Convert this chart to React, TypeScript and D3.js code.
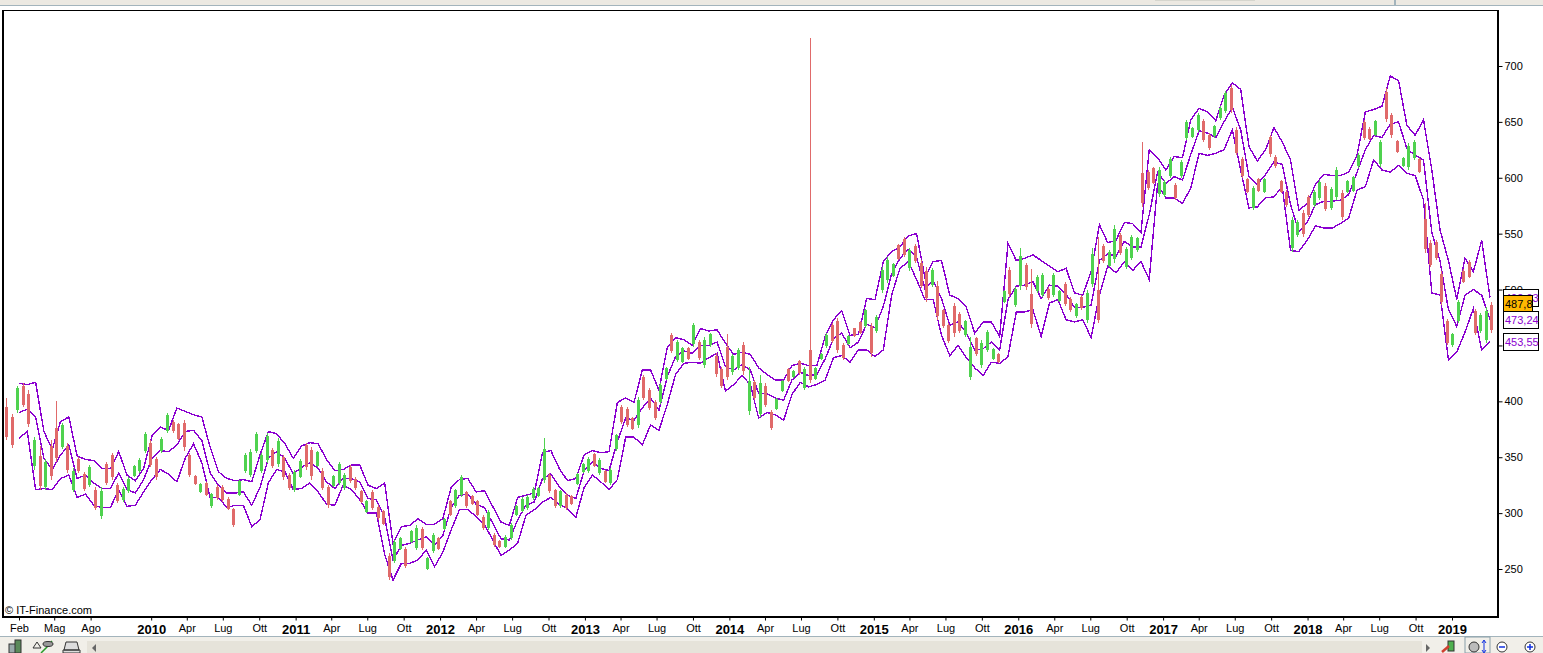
import { useEffect, useRef } from "react";
import * as d3 from "d3";

// price bars, one every 14 days starting from BAR_START
const BAR_START = new Date(2008, 11, 31);
const barLow = [
  365,358,390,395,377,339,321,321,330,346,357,336,319,336,320,323,303,295,325,330,309,310,318,332,336,354,341,330,354,372,372,365,356,332,325,318,315,305,312,310,303,288,315,336,332,354,
  336,345,340,341,330,321,319,331,339,330,341,321,305,323,325,321,327,321,309,300,303,294,289,240,255,267,251,273,267,267,249,264,267,285,297,305,314,305,307,297,285,285,270,269,269,276,297,301,303,
  312,314,327,318,305,305,303,307,325,336,336,341,334,327,325,356,380,377,374,376,401,392,383,398,419,443,435,434,437,449,437,430,449,422,412,419,424,428,424,388,401,386,395,374,392,408,417,421,424,
  410,416,419,437,448,452,443,437,450,458,460,466,440,461,497,506,511,526,529,517,524,501,489,502,473,466,452,458,461,458,419,441,430,444,437,434,
  488,493,484,500,500,466,497,493,491,493,489,485,480,475,482,470,502,470,524,520,524,531,518,526,534,574,589,594,583,583,600,580,
  600,634,636,641,632,625,636,652,658,658,620,600,586,571,587,586,619,609,586,574,534,547,547,565,574,580,570,571,580,562,586,587,609,634,634,637,610,650,636,622,610,607,616,604,533,520,526,486,450,449,470,506,510,459,461,452,461,
];
const barHigh = [
  403,389,414,416,410,368,360,348,365,400,381,363,340,350,337,343,323,323,346,354,327,323,332,343,349,373,365,350,368,390,383,381,383,354,334,327,328,318,325,325,314,305,330,354,357,373,
  354,372,358,367,352,336,339,348,363,359,356,340,325,334,346,336,343,332,321,312,321,307,303,264,276,279,270,285,289,288,261,282,279,296,312,322,334,320,316,312,298,303,282,276,280,291,307,314,316,
  323,323,367,336,322,321,318,316,336,345,350,354,349,339,340,371,397,395,386,404,424,412,401,416,431,461,455,449,449,470,455,458,461,443,431,460,442,448,453,431,419,424,416,392,403,419,430,428,437,
  431,725,431,443,461,470,475,452,459,466,472,483,470,477,520,529,524,541,547,537,541,526,520,519,508,483,470,488,480,473,458,458,455,464,448,443,
  500,520,502,537,524,518,513,515,502,515,500,507,493,488,495,500,537,547,541,535,558,551,538,549,547,632,607,610,610,598,619,595,
  616,652,645,658,653,640,647,664,678,683,645,619,600,593,600,600,638,620,598,589,565,562,571,585,589,598,595,592,610,589,598,602,622,652,645,652,634,680,658,634,619,631,634,618,577,544,544,517,474,461,491,518,526,483,479,484,489,
];
const barDir =
  "rrgrrgrgrrgrgrrgrgrrrggggg" + "rrggrrrrrgrgrrrrgggg" +
  "ggrgrrggrrgrrgggrrrgrrrrggrggrggrgrgg" + "rrrrgrrggggg" +
  "gggrrgrrgggrgrggrrrgrrrggrggrgrggrrrggrgrgrrggrgr" +
  "grgggrrrgrrgrggggrrgrrrgrrrrrggrgggr" +
  "grggrrggrggrrgrggrrggrgggrrrgg" + "gr" +
  "ggggrrgggrrrrgrgrrrr" + "ggrrggrggrgggrrggrrrgggrrrrrrggrrrggr";

// envelope bands, one point every 21 days starting from BAND_START
const BAND_START = new Date(2009, 1, 1);
const upperBand = [
  416,415,417,373,357,382,386,351,348,347,340,340,355,334,329,340,369,377,374,394,391,388,386,359,337,331,329,330,328,352,373,
  371,362,349,360,363,362,348,338,339,343,343,325,322,327,273,288,289,295,290,290,295,323,330,331,319,320,306,292,
  289,314,316,318,354,356,340,329,331,352,356,
  354,355,399,403,399,428,428,410,448,457,
  455,450,465,463,464,452,442,444,442,430,
  424,419,419,432,434,432,432,458,473,481,
  459,460,492,491,525,534,538,548,550,511,
  525,526,495,492,484,461,471,471,458,541,
  526,528,531,526,521,516,519,497,495,516,
  558,542,544,560,559,551,625,618,607,619,
  618,652,662,659,651,674,685,679,628,615,
  625,645,632,616,571,577,594,603,602,602,
  605,620,659,661,664,691,687,647,638,652,
  607,553,526,491,528,516,544,492.93,
];
const middleBand = [
  390,393,386,349,339,352,361,331,334,327,
  322,322,336,321,318,330,349,356,355,361,
  373,374,365,336,325,318,318,319,307,323,
  349,355,349,335,341,345,340,328,322,331,
  331,328,313,312,296,258,271,273,276,279,
  271,280,305,316,317,308,305,291,277,276,
  294,307,310,331,335,324,316,313,338,346,
  340,338,364,385,383,394,403,392,422,440,
  445,443,450,450,453,431,428,433,428,407,
  407,403,401,419,426,423,424,438,456,461,
  448,453,469,466,485,514,528,536,529,501,
  508,492,468,471,461,446,447,453,446,491,
  503,504,507,492,504,503,496,484,484,486,
  526,532,530,543,538,538,567,605,595,601,
  598,621,642,640,636,650,663,643,601,594,
  603,614,612,576,552,560,576,579,579,580,
  585,605,625,638,636,648,650,626,620,616,
  551,525,482,467,495,500,495,473.24,
];
const lowerBand = [
  367,373,321,322,321,331,334,314,317,307,
  305,305,321,306,307,319,330,339,335,328,
  349,362,345,314,314,305,307,307,288,294,
  327,339,337,321,322,327,319,308,307,325,
  321,312,300,300,263,240,255,255,258,267,
  252,265,285,303,303,297,290,276,262,267,
  273,298,303,310,314,308,304,296,323,334,
  328,321,330,368,368,361,379,374,397,424,
  434,435,434,439,443,409,415,423,415,385,
  390,388,383,406,417,413,415,419,439,441,
  435,446,446,440,446,495,519,525,509,491,
  491,459,441,450,439,430,423,435,434,440,
  480,480,482,458,488,491,473,471,473,457,
  495,521,515,525,517,525,509,594,582,582,
  577,591,622,620,622,625,643,607,573,574,
  582,583,592,535,534,544,557,555,555,559,
  564,589,592,616,607,605,611,604,602,580,
  497,495,437,444,462,483,446,453.55,
];

const PRICE_TICKS = [250, 300, 350, 400, 450, 500, 550, 600, 650, 700];
const MONTH_NAMES: Record<number, string> = { 1: "Feb", 4: "Mag", 7: "Ago", 3: "Apr", 6: "Lug", 9: "Ott" };
const TICK_MONTHS = [
  "2009-02", "2009-05", "2009-08",
  "2010-01", "2010-04", "2010-07", "2010-10",
  "2011-01", "2011-04", "2011-07", "2011-10",
  "2012-01", "2012-04", "2012-07", "2012-10",
  "2013-01", "2013-04", "2013-07", "2013-10",
  "2014-01", "2014-04", "2014-07", "2014-10",
  "2015-01", "2015-04", "2015-07", "2015-10",
  "2016-01", "2016-04", "2016-07", "2016-10",
  "2017-01", "2017-04", "2017-07", "2017-10",
  "2018-01", "2018-04", "2018-07", "2018-10",
  "2019-01",
];

const FONT = "'Liberation Sans', Arial, sans-serif";
const PURPLE = "#8a00d0";
const GREEN = "#4fd24f";
const RED = "#e06a6a";
const CHROME = "#ece9e2";
const CHROME_LINE = "#a3b4bc";

export default function App() {
  const svgRef = useRef<SVGSVGElement>(null);

  useEffect(() => {
    const svg = d3.select(svgRef.current);
    svg.selectAll("*").remove();

    const xS = d3.scaleTime()
      .domain([new Date(2009, 1, 1), new Date(2019, 0, 1)])
      .range([19, 1452]);
    const yS = d3.scaleLinear().domain([250, 700]).range([569, 66]);

    // window chrome
    svg.append("rect").attr("x", 0).attr("y", 0).attr("width", 1543).attr("height", 5).attr("fill", CHROME);
    svg.append("rect").attr("x", 0).attr("y", 5).attr("width", 1543).attr("height", 1).attr("fill", CHROME_LINE);
    svg.append("rect").attr("x", 1394).attr("y", 0).attr("width", 2).attr("height", 5).attr("fill", CHROME_LINE);
    svg.append("rect").attr("x", 1155).attr("y", 0).attr("width", 100).attr("height", 1).attr("fill", "#d6d6ce");

    // bands under the bars, aliased like the original
    const line = (values: number[]) =>
      d3.line<number>()
        .x((_, i) => xS(d3.timeDay.offset(BAND_START, i * 21)))
        .y(d => yS(d))(values);
    [upperBand, middleBand, lowerBand].forEach(band => {
      svg.append("path").attr("d", line(band)).attr("fill", "none")
        .attr("stroke", PURPLE).attr("stroke-width", 1.4).attr("shape-rendering", "crispEdges");
    });

    // bars: 1px full range, thick body from near the low
    const bodyBottom = (d: number, i: number) => d + Math.min((barHigh[i] - d) * 0.1, 3);
    const bodyTop = (d: number, i: number) => Math.min(barHigh[i] - (barHigh[i] - d) * 0.1, d + 30);
    const bars = svg.append("g").attr("shape-rendering", "crispEdges")
      .selectAll("g").data(barLow).join("g")
      .attr("transform", (_, i) => `translate(${Math.round(xS(d3.timeDay.offset(BAR_START, i * 14)))},0)`)
      .attr("fill", (_, i) => barDir[i] === "g" ? GREEN : RED);
    bars.append("rect").attr("x", 0).attr("width", 1)
      .attr("y", (_, i) => yS(barHigh[i]))
      .attr("height", (d, i) => yS(d) - yS(barHigh[i]));
    bars.append("rect").attr("x", -1).attr("width", 3)
      .attr("y", (d, i) => yS(bodyTop(d, i)))
      .attr("height", (d, i) => yS(bodyBottom(d, i)) - yS(bodyTop(d, i)));

    // frame
    svg.append("rect").attr("x", 2).attr("y", 10).attr("width", 1496).attr("height", 1).attr("fill", "#000");
    svg.append("rect").attr("x", 2).attr("y", 10).attr("width", 2).attr("height", 608).attr("fill", "#000");
    svg.append("rect").attr("x", 1497).attr("y", 10).attr("width", 2).attr("height", 608).attr("fill", "#000");
    svg.append("rect").attr("x", 2).attr("y", 616).attr("width", 1497).attr("height", 2).attr("fill", "#000");

    // price axis
    const yAxis = d3.axisRight(yS).tickValues(PRICE_TICKS).tickSize(4).tickPadding(2);
    svg.append("g").attr("transform", "translate(1498.5,0)").call(yAxis)
      .call(g => {
        g.select(".domain").remove();
        g.selectAll("line").attr("stroke", "#000");
        g.selectAll("text").attr("fill", "#000").attr("font-size", 11).attr("font-family", FONT);
      });

    // time axis
    const tickDates = TICK_MONTHS.map(m => new Date(+m.slice(0, 4), +m.slice(5) - 1, 1));
    const xAxis = d3.axisBottom(xS).tickValues(tickDates).tickSize(3).tickPadding(4)
      .tickFormat(d => {
        const dt = d as Date;
        return dt.getMonth() === 0 ? String(dt.getFullYear()) : MONTH_NAMES[dt.getMonth()];
      });
    svg.append("g").attr("transform", "translate(0,617.5)").call(xAxis)
      .call(g => {
        g.select(".domain").remove();
        g.selectAll("line").attr("stroke", "#000");
        g.selectAll<SVGTextElement, Date>("text")
          .attr("fill", "#000").attr("font-family", FONT)
          .attr("font-size", d => d.getMonth() === 0 ? 13 : 11)
          .attr("font-weight", d => d.getMonth() === 0 ? 700 : 400);
      });

    svg.append("text").attr("x", 5).attr("y", 614).attr("font-size", 11).attr("font-family", FONT)
      .attr("fill", "#000").text("© IT-Finance.com");

    // last value boxes
    const boxes = [
      { text: "492,93", w: 35, fill: "#fff", color: PURPLE },
      { text: "487,8", w: 29, fill: "#ffb800", color: "#000" },
      { text: "473,24", w: 35, fill: "#fff", color: PURPLE },
      { text: "453,55", w: 35, fill: "#fff", color: PURPLE },
    ];
    const boxTop = [289, 295, 311, 333];
    boxes.forEach((b, i) => {
      svg.append("rect").attr("x", 1503.5).attr("y", boxTop[i] + 0.5).attr("width", b.w).attr("height", 17)
        .attr("fill", b.fill).attr("stroke", "#000");
      svg.append("text").attr("x", 1505).attr("y", boxTop[i] + 13).attr("font-size", 11)
        .attr("font-family", FONT).attr("fill", b.color).text(b.text);
    });

    // bottom toolbar
    svg.append("rect").attr("x", 0).attr("y", 636).attr("width", 1543).attr("height", 17).attr("fill", "#f1efe9");
    svg.append("rect").attr("x", 0).attr("y", 636).attr("width", 1543).attr("height", 1).attr("fill", CHROME_LINE);
    svg.append("rect").attr("x", 87).attr("y", 641).attr("width", 1335).attr("height", 12).attr("fill", "#e6e3da");
    svg.append("path").attr("d", "M96 644 L92 648 L96 652 Z").attr("fill", "#666");
    svg.append("path").attr("d", "M1426 644 L1430 648 L1426 652 Z").attr("fill", "#666");
    const icons = svg.append("g").attr("fill", "none").attr("stroke", "#333");
    icons.append("rect").attr("x", 9).attr("y", 644).attr("width", 11).attr("height", 9).attr("fill", "#9aa");
    icons.append("rect").attr("x", 15).attr("y", 640).attr("width", 6).attr("height", 13).attr("fill", "#5a8a5a");
    icons.append("path").attr("d", "M33 648 L37 642 L41 648 Z");
    icons.append("path").attr("d", "M41 653 L47 647 L52 641").attr("stroke", "#2a9a2a").attr("stroke-width", 1.5);
    icons.append("ellipse").attr("cx", 48).attr("cy", 644).attr("rx", 5).attr("ry", 2.5).attr("fill", "#999");
    icons.append("path").attr("d", "M64 650 L66 642 L77 642 L79 650 Z M63 650 H80 V653 H63 Z").attr("fill", "#ddd");
    icons.append("rect").attr("x", 1448).attr("y", 641).attr("width", 6).attr("height", 10).attr("fill", "#4fb04f");
    icons.append("path").attr("d", "M1442 652 L1449 646").attr("stroke", "#d04030").attr("stroke-width", 2.5);
    icons.append("rect").attr("x", 1465).attr("y", 637).attr("width", 25).attr("height", 16).attr("stroke", "#8aa0aa");
    icons.append("circle").attr("cx", 1474).attr("cy", 647).attr("r", 5).attr("fill", "#bbb");
    icons.append("path").attr("d", "M1484 641 V652 M1482 643 L1484 640 L1486 643 M1482 650 L1484 653 L1486 650").attr("stroke", "#1030e0");
    icons.append("circle").attr("cx", 1502).attr("cy", 647).attr("r", 5).attr("fill", "#fff");
    icons.append("path").attr("d", "M1499 647 H1505").attr("stroke", "#1030e0").attr("stroke-width", 1.5);
    icons.append("circle").attr("cx", 1530).attr("cy", 647).attr("r", 5).attr("fill", "#fff");
    icons.append("path").attr("d", "M1527 647 H1533 M1530 644 V650").attr("stroke", "#1030e0").attr("stroke-width", 1.5);
  }, []);

  return (
    <svg
      ref={svgRef}
      width={1543}
      height={653}
      style={{ position: "absolute", left: 0, top: 0, background: "#fff", display: "block" }}
    />
  );
}
